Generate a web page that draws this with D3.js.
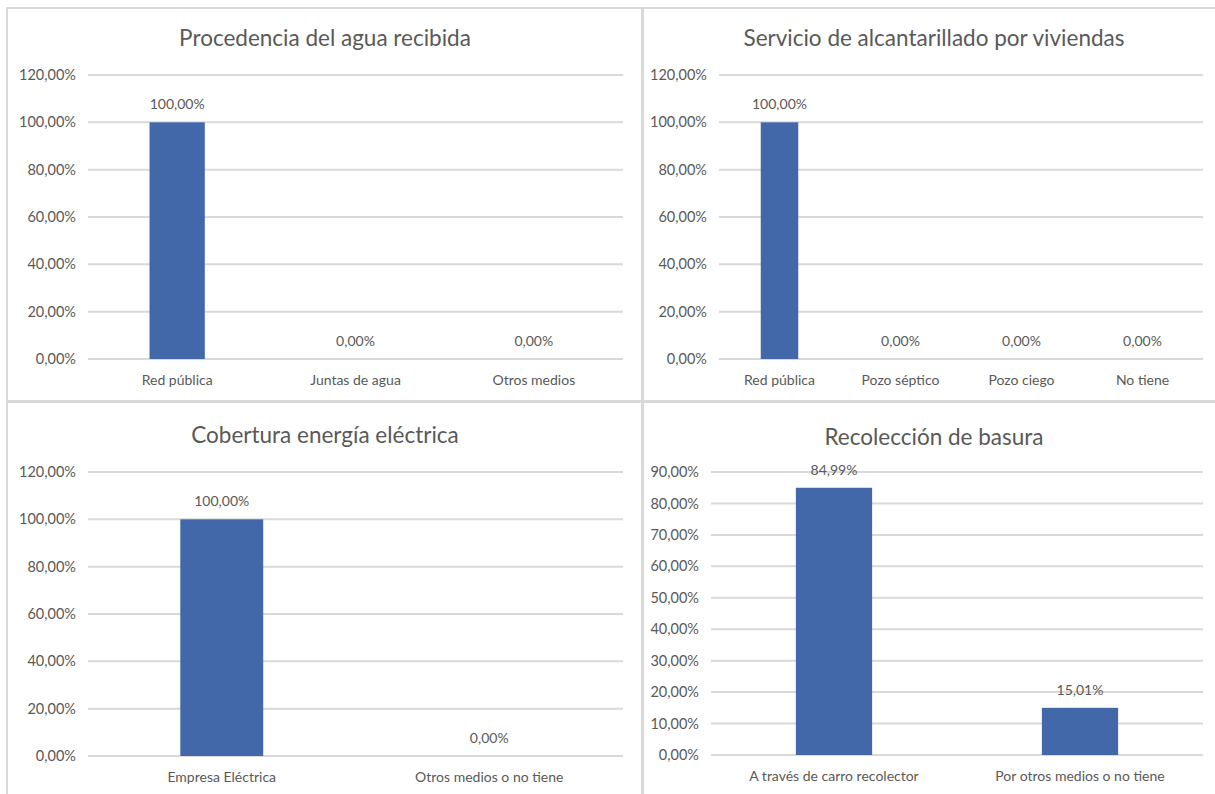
<!DOCTYPE html>
<html><head><meta charset="utf-8">
<script src="https://cdn.jsdelivr.net/npm/d3@7"></script>
<style>
body{margin:0;background:#fff;}
text{font-family:Lato,"Open Sans",sans-serif;fill:#595959;}
</style></head>
<body>
<svg id="c" width="1215" height="794"></svg>
<script>
// ---- data ----
const aguaCategories = ["Red pública", "Juntas de agua", "Otros medios"];
const aguaValues = [100.00, 0.00, 0.00];
const alcCategories = ["Red pública", "Pozo séptico", "Pozo ciego", "No tiene"];
const alcValues = [100.00, 0.00, 0.00, 0.00];
const eleCategories = ["Empresa Eléctrica", "Otros medios o no tiene"];
const eleValues = [100.00, 0.00];
const basCategories = ["A través de carro recolector", "Por otros medios o no tiene"];
const basValues = [84.99, 15.01];
const ticks120 = [0, 20, 40, 60, 80, 100, 120];
const ticks90 = [0, 10, 20, 30, 40, 50, 60, 70, 80, 90];
const titles = ["Procedencia del agua recibida", "Servicio de alcantarillado por viviendas",
                "Cobertura energía eléctrica", "Recolección de basura"];

const svg = d3.select("#c");
const fmt = v => v.toFixed(2).replace(".", ",") + "%";

// panel frames
const frames = [
  {x: 7, y: 8, w: 635, h: 393},
  {x: 643, y: 8, w: 580, h: 393},
  {x: 7, y: 402, w: 635, h: 400},
  {x: 643, y: 402, w: 580, h: 400}
];
frames.forEach(f => svg.append("rect").attr("x", f.x).attr("y", f.y).attr("width", f.w).attr("height", f.h)
  .attr("fill", "none").attr("stroke", "#d9d9d9").attr("stroke-width", 2));

function panel(cfg) {
  const g = svg.append("g");
  const x = d3.scaleBand().domain(cfg.cats).range([cfg.x0, cfg.x1]).paddingInner(0.69).paddingOuter(0.345);
  const y = d3.scaleLinear().domain([0, d3.max(cfg.ticks)]).range([cfg.y0, cfg.y1]);
  g.append("text").attr("x", cfg.tx).attr("y", cfg.ty).attr("text-anchor", "middle")
    .attr("font-size", 22.5).text(cfg.title);
  // gridlines
  g.selectAll(".grid").data(cfg.ticks).enter().append("line")
    .attr("x1", cfg.x0).attr("x2", cfg.x1).attr("y1", d => y(d)).attr("y2", d => y(d))
    .attr("stroke", "#d9d9d9").attr("stroke-width", 2);
  // y axis labels
  const ya = d3.axisLeft(y).tickValues(cfg.ticks).tickSize(0).tickPadding(12).tickFormat(fmt);
  const ag = g.append("g").attr("transform", `translate(${cfg.x0},0)`).call(ya);
  ag.select(".domain").remove();
  ag.selectAll("text").attr("font-size", 14.5).attr("font-family", "Lato").style("fill", "#595959");
  // bars
  g.selectAll(".bar").data(cfg.vals).enter().append("rect")
    .attr("x", (d, i) => x(cfg.cats[i])).attr("width", x.bandwidth())
    .attr("y", d => y(d)).attr("height", d => cfg.y0 - y(d)).attr("fill", "#4268a9");
  // value labels
  g.selectAll(".lbl").data(cfg.vals).enter().append("text")
    .attr("x", (d, i) => x(cfg.cats[i]) + x.bandwidth() / 2).attr("y", d => y(d) - 13)
    .attr("text-anchor", "middle").attr("font-size", 14).text(fmt);
  // x axis labels
  const xa = d3.axisBottom(x).tickSize(0).tickPadding(16);
  const xg = g.append("g").attr("transform", `translate(0,${cfg.y0})`).call(xa);
  xg.select(".domain").remove();
  xg.selectAll("text").attr("font-size", 14).attr("font-family", "Lato").style("fill", "#595959");
}

panel({title: titles[0], cats: aguaCategories, vals: aguaValues, ticks: ticks120,
  x0: 88, x1: 623, y0: 359, y1: 75, tx: 325, ty: 46});
panel({title: titles[1], cats: alcCategories, vals: alcValues, ticks: ticks120,
  x0: 719, x1: 1203, y0: 359, y1: 75, tx: 934, ty: 46});
panel({title: titles[2], cats: eleCategories, vals: eleValues, ticks: ticks120,
  x0: 88, x1: 623, y0: 756, y1: 472, tx: 325, ty: 443});
panel({title: titles[3], cats: basCategories, vals: basValues, ticks: ticks90,
  x0: 711, x1: 1203, y0: 755, y1: 472, tx: 934, ty: 445});
</script>
</body></html>
